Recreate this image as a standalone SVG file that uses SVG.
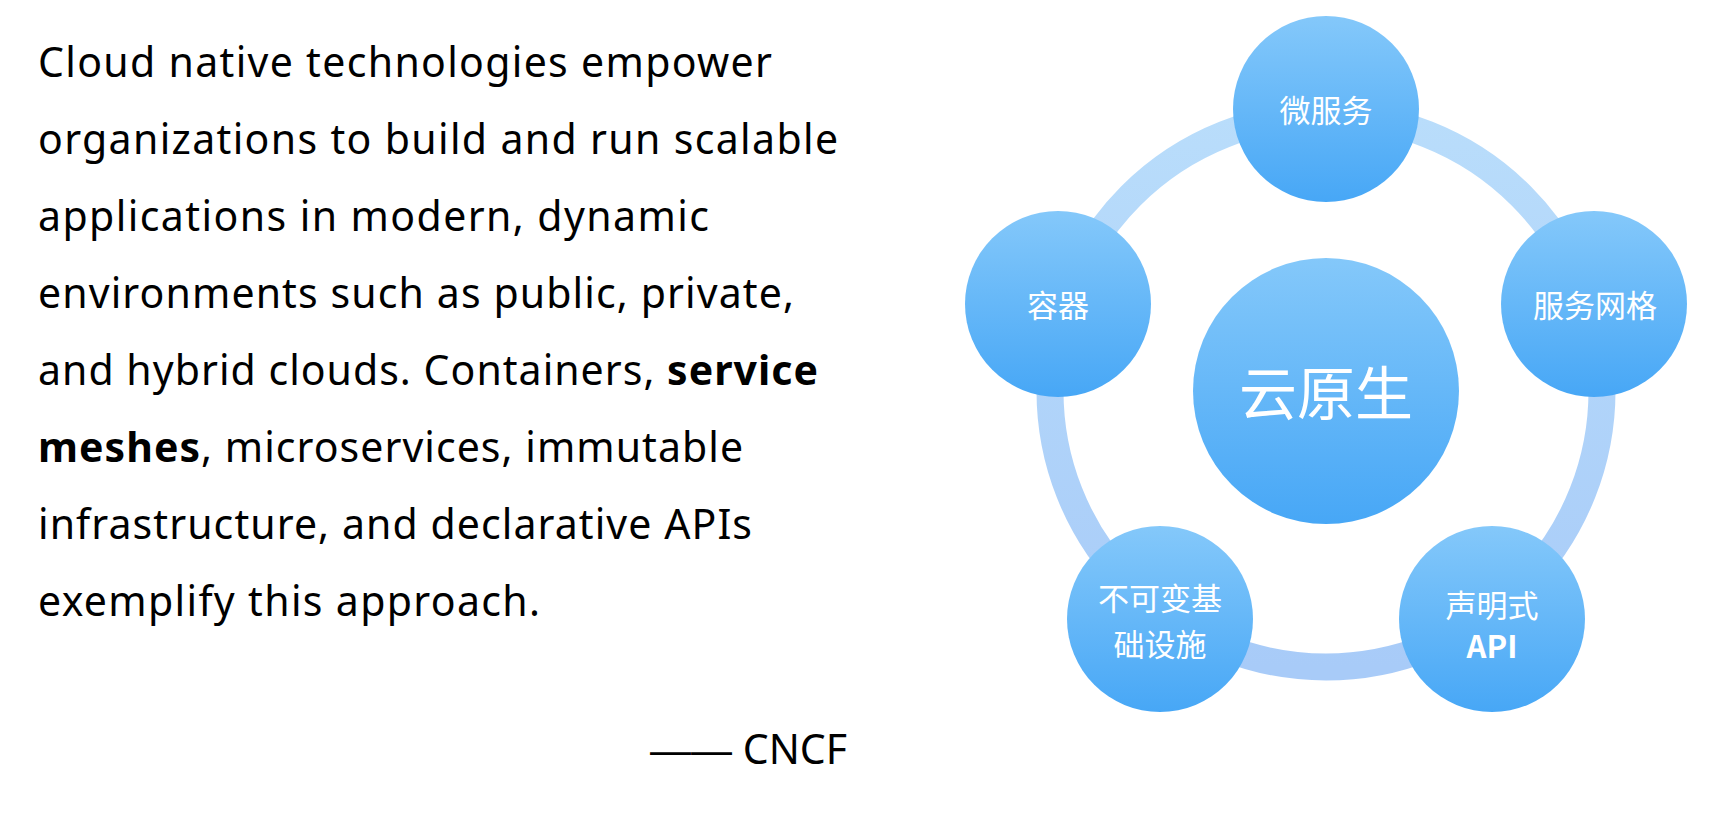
<svg xmlns="http://www.w3.org/2000/svg" width="1710" height="826" viewBox="0 0 1710 826">
<defs>
<linearGradient id="bubble" x1="0" y1="0" x2="0" y2="1">
<stop offset="0" stop-color="#84c8fa"/>
<stop offset="1" stop-color="#47a7f6"/>
</linearGradient>
<linearGradient id="ringg" x1="0" y1="0" x2="0" y2="1">
<stop offset="0" stop-color="#b9ddfb"/>
<stop offset="1" stop-color="#a8cbf8"/>
</linearGradient>
</defs>
<style>
.body{font-family:"Noto Sans","Open Sans","Liberation Sans",sans-serif;font-size:41px;fill:#000}
.b{font-weight:bold}
.bub{fill:url(#bubble)}
.lbl{font-family:"Noto Sans CJK SC","Noto Sans",sans-serif;font-size:31px;fill:#fff;text-anchor:middle;dominant-baseline:central}
.big{font-size:58px}
</style>
<rect width="1710" height="826" fill="#fff"/>
<g id="quote">
<text class="body" x="38" y="77" textLength="734" lengthAdjust="spacing">Cloud native technologies empower</text>
<text class="body" x="38" y="154" textLength="800" lengthAdjust="spacing">organizations to build and run scalable</text>
<text class="body" x="38" y="231" textLength="671" lengthAdjust="spacing">applications in modern, dynamic</text>
<text class="body" x="38" y="308" textLength="756" lengthAdjust="spacing">environments such as public, private,</text>
<text class="body" x="38" y="385" textLength="780" lengthAdjust="spacing">and hybrid clouds. Containers, <tspan class="b">service</tspan></text>
<text class="body" x="38" y="462" textLength="705" lengthAdjust="spacing"><tspan class="b">meshes</tspan>, microservices, immutable</text>
<text class="body" x="38" y="539" textLength="714" lengthAdjust="spacing">infrastructure, and declarative APIs</text>
<text class="body" x="38" y="616" textLength="502" lengthAdjust="spacing">exemplify this approach.</text>
<text class="body" x="847" y="764" text-anchor="end" style="font-size:41px"><tspan style="font-family:'Liberation Sans',sans-serif">——</tspan> CNCF</text>
</g>
<g id="connectors">
<circle cx="1326" cy="391" r="276" fill="none" stroke="url(#ringg)" stroke-width="27"/>
</g>
<g id="center">
<circle class="bub" cx="1326" cy="391" r="133"/>
<text class="lbl big" x="1326" y="390">云原生</text>
</g>
<g id="microservices">
<circle class="bub" cx="1326" cy="109" r="93"/>
<text class="lbl" x="1326" y="108">微服务</text>
</g>
<g id="service-mesh">
<circle class="bub" cx="1594" cy="304" r="93"/>
<text class="lbl" x="1595" y="303">服务网格</text>
</g>
<g id="containers">
<circle class="bub" cx="1058" cy="304" r="93"/>
<text class="lbl" x="1058" y="303">容器</text>
</g>
<g id="declarative-api">
<circle class="bub" cx="1492" cy="619" r="93"/>
<text class="lbl" x="1492" y="603">声明式</text>
<text class="lbl" x="1492" y="644" font-weight="bold">API</text>
</g>
<g id="immutable-infra">
<circle class="bub" cx="1160" cy="619" r="93"/>
<text class="lbl" x="1160" y="596">不可变基</text>
<text class="lbl" x="1160" y="642">础设施</text>
</g>
</svg>
